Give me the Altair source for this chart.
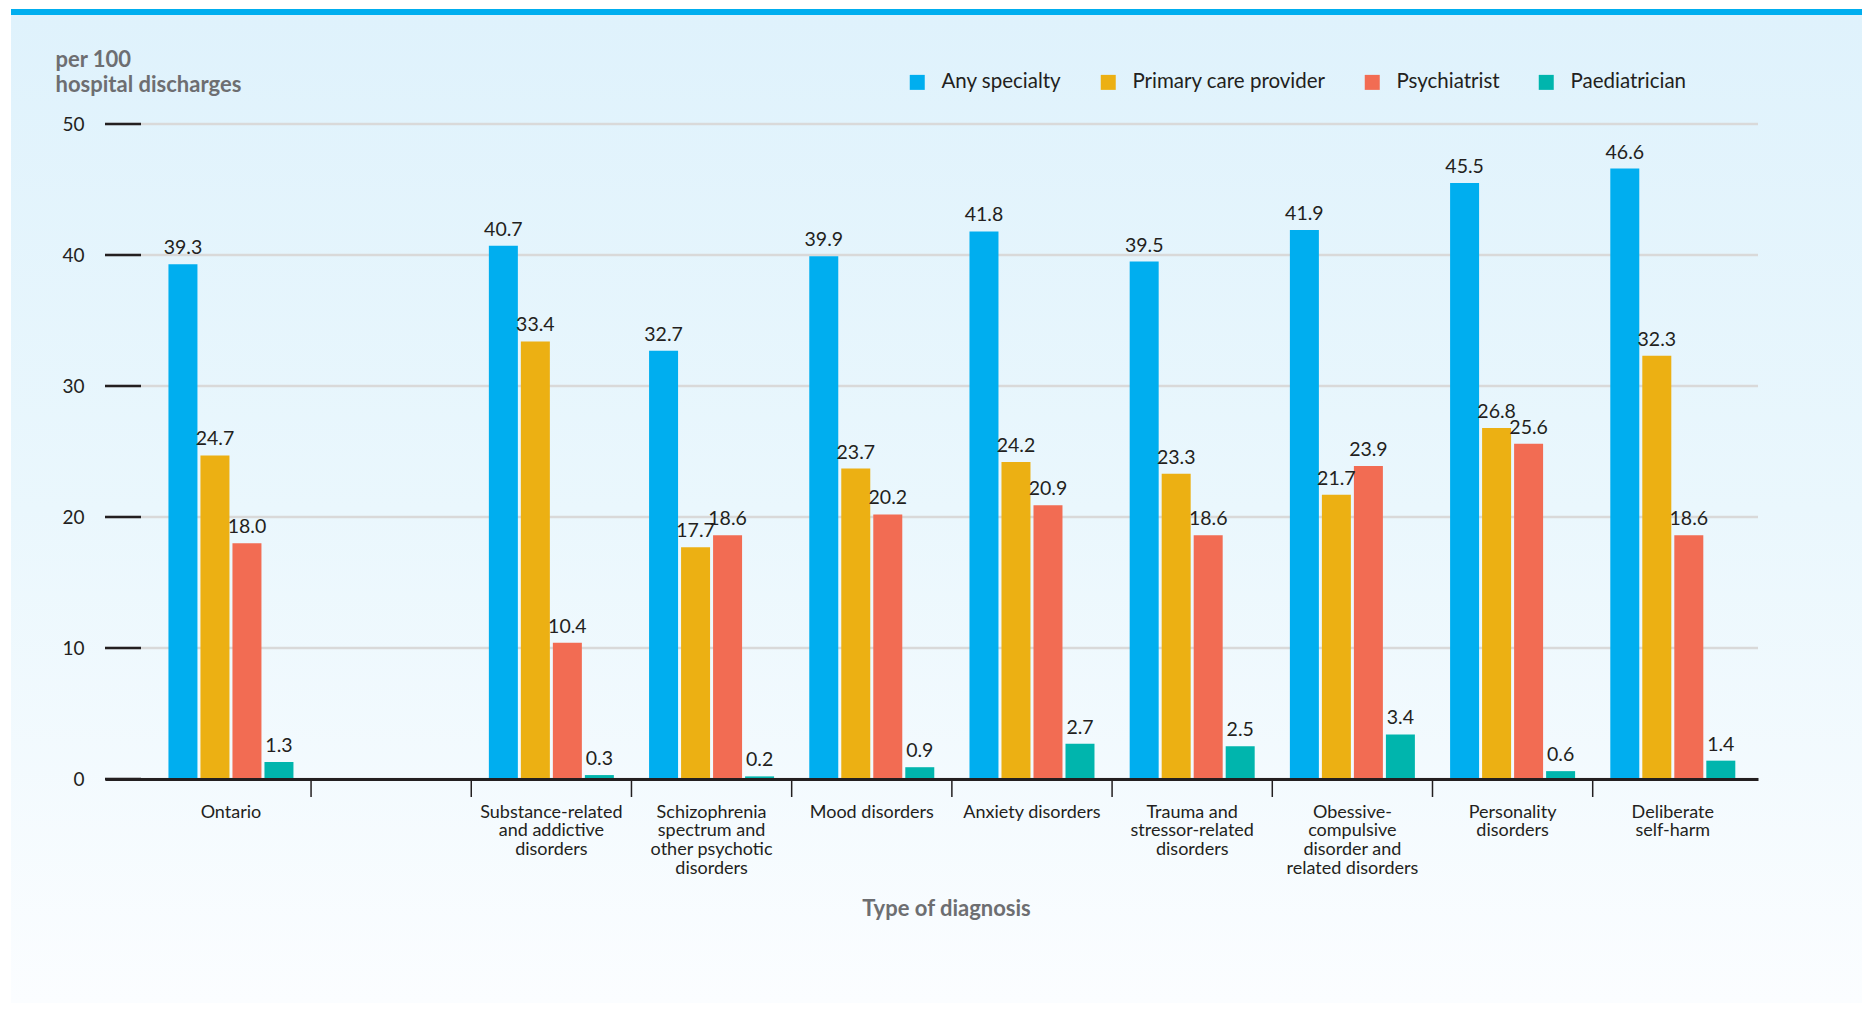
import altair as alt
import pandas as pd

categories = [
    "Ontario",
    " ",
    "Substance-related\nand addictive\ndisorders",
    "Schizophrenia\nspectrum and\nother psychotic\ndisorders",
    "Mood disorders",
    "Anxiety disorders",
    "Trauma and\nstressor-related\ndisorders",
    "Obessive-\ncompulsive\ndisorder and\nrelated disorders",
    "Personality\ndisorders",
    "Deliberate\nself-harm",
]
series = ["Any specialty", "Primary care provider", "Psychiatrist", "Paediatrician"]
colors = ["#00aeef", "#ecb013", "#f26c53", "#00b5ad"]

any_specialty = [39.3, None, 40.7, 32.7, 39.9, 41.8, 39.5, 41.9, 45.5, 46.6]
primary_care = [24.7, None, 33.4, 17.7, 23.7, 24.2, 23.3, 21.7, 26.8, 32.3]
psychiatrist = [18.0, None, 10.4, 18.6, 20.2, 20.9, 18.6, 23.9, 25.6, 18.6]
paediatrician = [1.3, None, 0.3, 0.2, 0.9, 2.7, 2.5, 3.4, 0.6, 1.4]
y_ticks = [0, 10, 20, 30, 40, 50]

rows = []
for s, vals in zip(series, [any_specialty, primary_care, psychiatrist, paediatrician]):
    for c, v in zip(categories, vals):
        if v is not None:
            rows.append({"cat": c, "series": s, "value": v})
df = pd.DataFrame(rows)
dividers = pd.DataFrame({"cat": categories[1:]})
ticks_df = pd.DataFrame({"value": y_ticks})

W, H = 1653, 655
DARK = "#231f20"
GREY = "#6d6e71"

x_scale = alt.Scale(domain=categories, paddingInner=0, paddingOuter=0.159, align=0.9)
y_scale = alt.Scale(domain=[0, 50], nice=False)
off_scale = alt.Scale(paddingInner=0.094, paddingOuter=0.55)

x_axis = alt.Axis(
    title="Type of diagnosis",
    titleFontSize=22,
    titleFontWeight="bold",
    titleColor=GREY,
    titleX=841,
    titleY=119,
    titleAlign="center",
    titleBaseline="top",
    labelExpr="split(datum.label, '\\n')",
    labelAngle=0,
    labelFontSize=18,
    labelLineHeight=18.8,
    labelColor=DARK,
    labelPadding=24,
    ticks=False,
    domainColor=DARK,
    domainWidth=3,
    labelLimit=300,
    grid=False,
    zindex=1,
)
y_axis = alt.Axis(
    title=["per 100", "hospital discharges"],
    titleAngle=0,
    titleAlign="left",
    titleBaseline="top",
    titleX=-50,
    titleY=-75,
    titleFontSize=22,
    titleFontWeight="bold",
    titleColor=GREY,
    titleLineHeight=25,
    values=y_ticks,
    ticks=False,
    domain=False,
    labelFontSize=19,
    labelColor=DARK,
    labelPadding=21,
    grid=False,
    zindex=1,
)

X = alt.X("cat:N", scale=x_scale, sort=categories, axis=x_axis)
Y = alt.Y("value:Q", scale=y_scale, axis=y_axis)
XO = alt.XOffset("series:N", sort=series, scale=off_scale)

background = alt.Chart(alt.InlineData(values=[{"a": 1}])).mark_rect(
    fill=alt.Gradient(
        gradient="linear",
        stops=[
            alt.GradientStop(color="#dff2fc", offset=0),
            alt.GradientStop(color="#eaf7fd", offset=0.5),
            alt.GradientStop(color="#fbfdff", offset=1),
        ],
        x1=0, x2=0, y1=0, y2=1,
    )
).encode(x=alt.value(-94), x2=alt.value(1757), y=alt.value(-109), y2=alt.value(879))

topline = alt.Chart(alt.InlineData(values=[{"a": 1}])).mark_rect(color="#00aeef").encode(
    x=alt.value(-94), x2=alt.value(1757), y=alt.value(-115), y2=alt.value(-109)
)

grid_rules = alt.Chart(ticks_df).mark_rule(color="#d9d9d9", strokeWidth=2.5).encode(
    x=alt.value(0),
    x2=alt.value(W),
    y=Y,
)

bars = alt.Chart(df).mark_bar().encode(
    x=X,
    xOffset=XO,
    y=Y,
    color=alt.Color(
        "series:N",
        sort=series,
        scale=alt.Scale(domain=series, range=colors),
        legend=alt.Legend(
            title=None,
            orient="none",
            direction="horizontal",
            legendX=802,
            legendY=-52,
            symbolType="square",
            symbolSize=225,
            symbolStrokeWidth=0,
            symbolOpacity=1,
            labelFontSize=20.5,
            labelColor=DARK,
            labelOffset=14,
            labelLimit=400,
            columnPadding=36,
            zindex=1,
        ),
    ),
)

labels = alt.Chart(df).mark_text(baseline="alphabetic", dy=-10, fontSize=19.5, color=DARK).encode(
    x=X,
    xOffset=XO,
    y=Y,
    text=alt.Text("value:Q", format=".1f"),
)

div_rules = alt.Chart(dividers).mark_rule(color=DARK, strokeWidth=1.5).encode(
    x=alt.X("cat:N", scale=x_scale, sort=categories, axis=x_axis, bandPosition=0),
    y=alt.value(H),
    y2=alt.value(H + 18),
)

y_tick_rules = alt.Chart(ticks_df).mark_rule(color=DARK, strokeWidth=2.5).encode(
    x=alt.value(0),
    x2=alt.value(36),
    y=Y,
)

chart = alt.layer(background, topline, grid_rules, bars, labels, div_rules, y_tick_rules).properties(
    width=W,
    height=H,
    autosize=alt.AutoSizeParams(type="none"),
    padding={"left": 97, "top": 116, "right": 104, "bottom": 224},
    background="white",
).configure(font="Lato").configure_view(stroke=None).resolve_scale(x="shared", y="shared")

chart.save("out.html", embed_options={"renderer": "svg", "actions": False})
